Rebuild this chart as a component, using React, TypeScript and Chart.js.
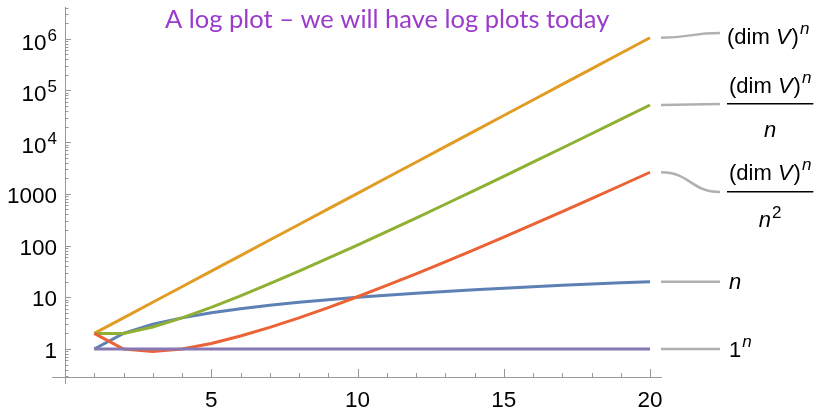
import React, { useEffect, useRef } from "react";
import { Chart, registerables } from "chart.js";

Chart.register(...registerables);

// ---- data ----
const nValues = [1, 2, 3, 4, 5, 6, 7, 8, 9, 10, 11, 12, 13, 14, 15, 16, 17, 18, 19, 20];
const dimPow = [2, 4, 8, 16, 32, 64, 128, 256, 512, 1024, 2048, 4096, 8192, 16384, 32768, 65536, 131072, 262144, 524288, 1048576];
const dimPowOverN = [2, 2, 2.667, 4, 6.4, 10.67, 18.29, 32, 56.89, 102.4, 186.2, 341.3, 630.2, 1170.3, 2184.5, 4096, 7710, 14564, 27594, 52429];
const dimPowOverN2 = [2, 1, 0.889, 1, 1.28, 1.778, 2.612, 4, 6.321, 10.24, 16.93, 28.44, 48.47, 83.59, 145.6, 256, 453.5, 809.1, 1452.3, 2621.4];
const linearN = [1, 2, 3, 4, 5, 6, 7, 8, 9, 10, 11, 12, 13, 14, 15, 16, 17, 18, 19, 20];
const onePow = [1, 1, 1, 1, 1, 1, 1, 1, 1, 1, 1, 1, 1, 1, 1, 1, 1, 1, 1, 1];

const xMajorTicks = [5, 10, 15, 20];
const yMajorTicks = [1, 10, 100, 1000, 10000, 100000, 1000000];
const yTickBase = ["1", "10", "100", "1000", "10", "10", "10"];
const yTickExp = ["", "", "", "", "4", "5", "6"];

const titleText = "A log plot \u2013 we will have log plots today";

const COLORS = {
  blue: "#5E81B5",
  orange: "#E19C24",
  green: "#8FB032",
  red: "#EB6235",
  purple: "#8778B3",
};

const AXIS_COLOR = "#999999";
const CONNECTOR_COLOR = "#b0b0b0";
const SANS = "'Liberation Sans', Arial, sans-serif";

function drawSup(ctx: CanvasRenderingContext2D, x: number, y: number, base: string, exp: string, baseFont: string, expFont: string, italicBase = false, italicExp = true, align: "left" | "right" | "center" = "left", raise = 9) {
  ctx.font = (italicBase ? "italic " : "") + baseFont;
  const wb = ctx.measureText(base).width;
  ctx.font = (italicExp ? "italic " : "") + expFont;
  const we = exp ? ctx.measureText(exp).width + 1 : 0;
  const total = wb + we;
  let sx = x;
  if (align === "right") sx = x - total;
  if (align === "center") sx = x - total / 2;
  ctx.textAlign = "left";
  ctx.textBaseline = "alphabetic";
  ctx.font = (italicBase ? "italic " : "") + baseFont;
  ctx.fillText(base, sx, y);
  if (exp) {
    ctx.font = (italicExp ? "italic " : "") + expFont;
    ctx.fillText(exp, sx + wb + 1, y - raise);
  }
  return total;
}

// draws "(dim V)" + sup n starting at x, baseline y; returns width
function drawDimV(ctx: CanvasRenderingContext2D, x: number, y: number, measureOnly = false) {
  const f = "22px " + SANS;
  const fi = "italic 22px " + SANS;
  const fs = "italic 17px " + SANS;
  ctx.textAlign = "left";
  ctx.textBaseline = "alphabetic";
  ctx.font = f;
  const w1 = ctx.measureText("(dim ").width;
  ctx.font = fi;
  const w2 = ctx.measureText("V").width + 1;
  ctx.font = f;
  const w3 = ctx.measureText(")").width;
  ctx.font = fs;
  const w4 = ctx.measureText("n").width + 1;
  if (!measureOnly) {
    ctx.font = f;
    ctx.fillText("(dim ", x, y);
    ctx.font = fi;
    ctx.fillText("V", x + w1, y);
    ctx.font = f;
    ctx.fillText(")", x + w1 + w2, y);
    ctx.font = fs;
    ctx.fillText("n", x + w1 + w2 + w3 + 1, y - 10);
  }
  return w1 + w2 + w3 + w4;
}

const decorPlugin = {
  id: "decor",
  beforeDatasetsDraw(chart: any) {
    const ctx: CanvasRenderingContext2D = chart.ctx;
    const xs = chart.scales.x;
    const ys = chart.scales.y;
    const area = chart.chartArea;
    const x0 = xs.getPixelForValue(0);
    const yb = area.bottom;
    ctx.save();
    ctx.strokeStyle = AXIS_COLOR;
    ctx.lineWidth = 1;
    // axes
    ctx.beginPath();
    ctx.moveTo(area.left - 13, yb + 0.5);
    ctx.lineTo(area.right, yb + 0.5);
    ctx.moveTo(Math.round(x0) + 0.5, area.top);
    ctx.lineTo(Math.round(x0) + 0.5, yb + 7);
    ctx.stroke();
    // x ticks
    ctx.beginPath();
    for (let v = 1; v <= 20; v++) {
      const px = Math.round(xs.getPixelForValue(v)) + 0.5;
      const len = v % 5 === 0 ? 8 : 4;
      ctx.moveTo(px, yb);
      ctx.lineTo(px, yb - len);
    }
    // y ticks (log)
    for (let e = -1; e <= 6; e++) {
      for (let m = 1; m <= 9; m++) {
        const v = m * Math.pow(10, e);
        if (v < ys.min || v > ys.max) continue;
        const py = Math.round(ys.getPixelForValue(v)) + 0.5;
        const len = m === 1 ? 6 : 3.5;
        ctx.moveTo(x0, py);
        ctx.lineTo(x0 + len, py);
      }
    }
    ctx.stroke();

    // tick labels
    ctx.fillStyle = "#000";
    ctx.textBaseline = "alphabetic";
    ctx.font = "22.5px " + SANS;
    ctx.textAlign = "center";
    xMajorTicks.forEach((v) => {
      ctx.fillText(String(v), xs.getPixelForValue(v), yb + 30);
    });
    yMajorTicks.forEach((v, i) => {
      const py = ys.getPixelForValue(v);
      const hasExp = yTickExp[i] !== "";
      drawSup(ctx, x0 - 8, py + (hasExp ? 11 : 9), yTickBase[i], yTickExp[i], "22.5px " + SANS, "17px " + SANS, false, false, "right", 9);
    });
    ctx.restore();
  },
  afterDraw(chart: any) {
    const ctx: CanvasRenderingContext2D = chart.ctx;
    const xs = chart.scales.x;
    const ys = chart.scales.y;
    ctx.save();
    // title
    ctx.fillStyle = "#9A3CCB";
    ctx.font = "25.5px Lato, sans-serif";
    ctx.textAlign = "left";
    ctx.textBaseline = "alphabetic";
    ctx.fillText(titleText, 165, 28);

    // connectors
    const xEnd = xs.getPixelForValue(20);
    const cStart = xEnd + 11;
    const cEnd = 720;
    const last = (arr: number[]) => ys.getPixelForValue(arr[arr.length - 1]);
    const targets = [
      { y0: last(dimPow), y1: 33 },
      { y0: last(dimPowOverN), y1: 104 },
      { y0: last(dimPowOverN2), y1: 192 },
      { y0: last(linearN), y1: last(linearN) },
      { y0: last(onePow), y1: last(onePow) },
    ];
    ctx.strokeStyle = CONNECTOR_COLOR;
    ctx.lineWidth = 2.5;
    targets.forEach((t) => {
      ctx.beginPath();
      ctx.moveTo(cStart, t.y0);
      const mid = (cStart + cEnd) / 2;
      ctx.bezierCurveTo(mid, t.y0, mid, t.y1, cEnd, t.y1);
      ctx.stroke();
    });

    // labels
    ctx.fillStyle = "#000";
    const lx = 727;
    drawDimV(ctx, lx, 44);
    // fraction 1
    const w = drawDimV(ctx, 0, 0, true);
    drawDimV(ctx, lx + 2, 93);
    ctx.fillRect(lx, 103, w + 4, 1.5);
    ctx.font = "italic 22px " + SANS;
    ctx.textAlign = "center";
    ctx.fillText("n", lx + 2 + w / 2, 137);
    // fraction 2
    drawDimV(ctx, lx + 2, 180);
    ctx.fillRect(lx, 191, w + 4, 1.5);
    drawSup(ctx, lx + 2 + w / 2, 227, "n", "2", "22px " + SANS, "17px " + SANS, true, false, "center", 9);
    // n
    ctx.font = "italic 22px " + SANS;
    ctx.textAlign = "left";
    ctx.fillText("n", 729, last(linearN) + 7);
    // 1^n
    drawSup(ctx, 729, last(onePow) + 8, "1", "n", "22px " + SANS, "17px " + SANS, false, true, "left", 10);
    ctx.restore();
  },
};

export default function App() {
  const canvasRef = useRef<HTMLCanvasElement | null>(null);

  useEffect(() => {
    document.body.style.margin = "0";
    const canvas = canvasRef.current;
    if (!canvas) return;
    const mk = (data: number[], color: string) => ({
      data: nValues.map((n, i) => ({ x: n, y: data[i] })),
      borderColor: color,
      backgroundColor: color,
      borderWidth: 3,
      pointRadius: 0,
      tension: 0,
      fill: false,
    });
    const chart = new Chart(canvas, {
      type: "line",
      data: {
        datasets: [
          mk(onePow, COLORS.purple),
          mk(dimPowOverN2, COLORS.red),
          mk(dimPowOverN, COLORS.green),
          mk(dimPow, COLORS.orange),
          mk(linearN, COLORS.blue),
        ],
      },
      options: {
        animation: false,
        responsive: false,
        maintainAspectRatio: false,
        layout: { padding: { left: 65, right: 158, top: 7, bottom: 32 } },
        plugins: { legend: { display: false }, tooltip: { enabled: false } },
        scales: {
          x: { type: "linear", min: 0, max: 20.41, display: false },
          y: { type: "logarithmic", min: 0.287, max: 4.12e6, display: false },
        },
      },
      plugins: [decorPlugin],
    });
    return () => chart.destroy();
  }, []);

  return (
    <div style={{ width: 820, height: 409 }}>
      <canvas ref={canvasRef} width={820} height={409} style={{ display: "block" }} />
    </div>
  );
}
